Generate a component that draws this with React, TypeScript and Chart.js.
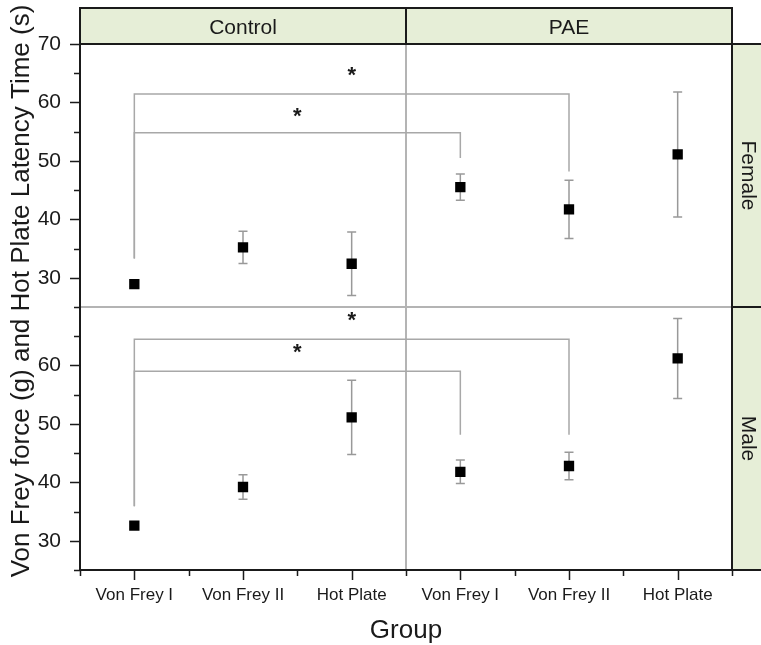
import React, { useEffect, useRef } from 'react';
import { Chart, registerables } from 'chart.js';

Chart.register(...registerables);

// ---- data ----
const categories = ['Von Frey I', 'Von Frey II', 'Hot Plate', 'Von Frey I', 'Von Frey II', 'Hot Plate'];
const groups = ['Control', 'PAE'];
const sexes = ['Female', 'Male'];
const femaleMeans = [28.9, 35.2, 32.4, 45.5, 41.7, 51.1];
const femaleErrors = [0.4, 2.75, 5.45, 2.25, 5.0, 10.7];
const maleMeans = [32.6, 39.2, 51.1, 41.8, 42.8, 61.2];
const maleErrors = [0.6, 2.1, 6.35, 2.0, 2.35, 6.85];
// [fromIndex, toIndex, barLevel, leftFoot, rightFoot, starLevel]
const femaleBrackets = [
  [0, 3, 54.8, 33.3, 50.5, 58.1],
  [0, 4, 61.45, 33.3, 48.2, 65.0],
];
const maleBrackets = [
  [0, 3, 59.0, 35.9, 48.15, 62.7],
  [0, 4, 64.5, 35.9, 48.15, 68.1],
];
const yMin = 25;
const yMax = 70;
const yTitle = 'Von Frey force (g) and Hot Plate Latency Time (s)';
const xTitle = 'Group';

const FONT = '"Liberation Sans", Arial, Helvetica, sans-serif';
const DARK = '#1a1a1a';
const GREEN = '#e6eed7';

const facetPlugin = {
  id: 'facets',
  beforeDatasetsDraw(chart: any) {
    const { ctx, chartArea: a, scales } = chart;
    const x = scales.x;
    const panels = [
      { y: scales.yF, means: femaleMeans, errs: femaleErrors, brackets: femaleBrackets },
      { y: scales.yM, means: maleMeans, errs: maleErrors, brackets: maleBrackets },
    ];
    ctx.save();
    // dividers
    ctx.strokeStyle = '#b4b4b4';
    ctx.lineWidth = 2;
    const sep = x.getPixelForValue(2.5);
    ctx.beginPath();
    ctx.moveTo(sep, a.top);
    ctx.lineTo(sep, a.bottom);
    ctx.moveTo(a.left, scales.yF.bottom);
    ctx.lineTo(a.right, scales.yF.bottom);
    ctx.stroke();

    for (const p of panels) {
      // brackets
      ctx.strokeStyle = '#a8a8a8';
      ctx.lineWidth = 1.5;
      for (const b of p.brackets) {
        const [fi, ti, lvl, lf, rf, st] = b;
        const x1 = x.getPixelForValue(fi);
        const x2 = x.getPixelForValue(ti);
        const yl = p.y.getPixelForValue(lvl);
        ctx.beginPath();
        ctx.moveTo(x1, p.y.getPixelForValue(lf));
        ctx.lineTo(x1, yl);
        ctx.lineTo(x2, yl);
        ctx.lineTo(x2, p.y.getPixelForValue(rf));
        ctx.stroke();
        ctx.fillStyle = DARK;
        ctx.font = `bold 22px ${FONT}`;
        ctx.textAlign = 'center';
        ctx.textBaseline = 'alphabetic';
        ctx.fillText('*', (x1 + x2) / 2, p.y.getPixelForValue(st) + 9);
      }
      // error bars
      ctx.strokeStyle = '#999999';
      ctx.lineWidth = 1.5;
      p.means.forEach((m, i) => {
        const px = x.getPixelForValue(i);
        const t = p.y.getPixelForValue(m + p.errs[i]);
        const bt = p.y.getPixelForValue(m - p.errs[i]);
        ctx.beginPath();
        ctx.moveTo(px, t);
        ctx.lineTo(px, bt);
        ctx.moveTo(px - 4.5, t);
        ctx.lineTo(px + 4.5, t);
        ctx.moveTo(px - 4.5, bt);
        ctx.lineTo(px + 4.5, bt);
        ctx.stroke();
      });
    }
    ctx.restore();
  },
  afterDraw(chart: any) {
    const { ctx, chartArea: a, scales, width } = chart;
    const x = scales.x;
    const yF = scales.yF;
    const yM = scales.yM;
    const sep = x.getPixelForValue(2.5);
    ctx.save();
    // header strip
    const hTop = 8;
    ctx.fillStyle = GREEN;
    ctx.fillRect(a.left, hTop, a.right - a.left, a.top - hTop);
    // right strips
    const sRight = width + 10;
    ctx.fillRect(a.right, yF.top, sRight - a.right, yF.bottom - yF.top);
    ctx.fillRect(a.right, yM.top, sRight - a.right, yM.bottom - yM.top);

    ctx.strokeStyle = DARK;
    ctx.lineWidth = 2;
    ctx.strokeRect(a.left, hTop, a.right - a.left, a.top - hTop);
    ctx.beginPath();
    ctx.moveTo(sep, hTop);
    ctx.lineTo(sep, a.top);
    ctx.stroke();
    ctx.strokeRect(a.right, yF.top, sRight - a.right, yF.bottom - yF.top);
    ctx.strokeRect(a.right, yM.top, sRight - a.right, yM.bottom - yM.top);

    // frame
    ctx.beginPath();
    ctx.moveTo(a.left, a.top);
    ctx.lineTo(a.left, a.bottom);
    ctx.lineTo(a.right, a.bottom);
    ctx.moveTo(a.right, a.top);
    ctx.lineTo(a.right, a.bottom);
    ctx.stroke();

    // y ticks
    ctx.lineWidth = 1.5;
    ctx.beginPath();
    const yTickSets = [
      { s: yF, top: yMax },
      { s: yM, top: yMax - 5 },
    ];
    for (const t of yTickSets) {
      for (let v = yMin; v <= t.top; v += 5) {
        const py = Math.round(t.s.getPixelForValue(v)) + 0.5;
        const len = v % 10 === 0 ? 10 : 6;
        ctx.moveTo(a.left - len, py);
        ctx.lineTo(a.left, py);
      }
    }
    // x ticks
    for (let i = -0.5; i <= categories.length - 0.5; i += 0.5) {
      const px = Math.round(x.getPixelForValue(i)) + 0.5;
      const len = Number.isInteger(i) ? 10 : 6;
      ctx.moveTo(px, a.bottom);
      ctx.lineTo(px, a.bottom + len);
    }
    ctx.stroke();

    // texts
    ctx.fillStyle = DARK;
    ctx.textAlign = 'center';
    ctx.textBaseline = 'alphabetic';
    ctx.font = `21px ${FONT}`;
    ctx.fillText(groups[0], (a.left + sep) / 2, 33.5);
    ctx.fillText(groups[1], (sep + a.right) / 2, 33.5);

    const strips = [yF, yM];
    strips.forEach((s: any, i: number) => {
      ctx.save();
      ctx.translate(a.right + 10, (s.top + s.bottom) / 2);
      ctx.rotate(Math.PI / 2);
      ctx.fillText(sexes[i], 0, 0);
      ctx.restore();
    });

    ctx.font = `26px ${FONT}`;
    ctx.save();
    ctx.translate(29, 291);
    ctx.rotate(-Math.PI / 2);
    ctx.fillText(yTitle, 0, 0);
    ctx.restore();
    ctx.fillText(xTitle, (a.left + a.right) / 2, 638);
    ctx.restore();
  },
};

const tickFont = { family: FONT, size: 21 };

export default function App() {
  const ref = useRef<HTMLCanvasElement | null>(null);
  useEffect(() => {
    const canvas = ref.current;
    if (!canvas) return;
    const pointStyle = {
      showLine: false,
      pointStyle: 'rect',
      pointRadius: 7.3,
      pointHoverRadius: 7.3,
      pointBackgroundColor: '#000',
      pointBorderWidth: 0,
      borderColor: '#000',
      backgroundColor: '#000',
    };
    const chart = new Chart(canvas, {
      type: 'line',
      data: {
        labels: categories,
        datasets: [
          { label: sexes[0], data: femaleMeans, yAxisID: 'yF', ...pointStyle },
          { label: sexes[1], data: maleMeans, yAxisID: 'yM', ...pointStyle },
        ],
      },
      options: {
        animation: false,
        responsive: false,
        maintainAspectRatio: false,
        events: [],
        layout: { padding: { top: 44, right: 29, left: 0, bottom: 0 } },
        plugins: { legend: { display: false }, tooltip: { enabled: false } },
        scales: {
          x: {
            type: 'category',
            offset: true,
            grid: { display: false, drawTicks: false },
            border: { display: false },
            ticks: { font: { family: FONT, size: 17 }, color: DARK, padding: 15, autoSkip: false, maxRotation: 0 },
            afterFit: (s: any) => { s.height = 75; },
          },
          yM: {
            type: 'linear',
            position: 'left',
            stack: 'rows',
            stackWeight: 1,
            min: yMin,
            max: yMax,
            grid: { display: false, drawTicks: false },
            border: { display: false },
            ticks: {
              stepSize: 5,
              autoSkip: false,
              font: tickFont,
              color: DARK,
              padding: 19,
              callback: (v: any) => (v % 10 === 0 && v < yMax ? String(v) : ''),
            },
            afterFit: (s: any) => { s.width = 80; },
          },
          yF: {
            type: 'linear',
            position: 'left',
            stack: 'rows',
            stackWeight: 1,
            min: yMin,
            max: yMax,
            grid: { display: false, drawTicks: false },
            border: { display: false },
            ticks: {
              stepSize: 5,
              autoSkip: false,
              font: tickFont,
              color: DARK,
              padding: 19,
              callback: (v: any) => (v % 10 === 0 ? String(v) : ''),
            },
            afterFit: (s: any) => { s.width = 80; },
          },
        },
      } as any,
      plugins: [facetPlugin],
    });
    return () => chart.destroy();
  }, []);
  return (
    <div style={{ position: 'absolute', left: 0, top: 0, width: 761, height: 645, background: '#fff' }}>
      <canvas ref={ref} width={761} height={645} style={{ width: 761, height: 645, display: 'block' }} />
    </div>
  );
}
